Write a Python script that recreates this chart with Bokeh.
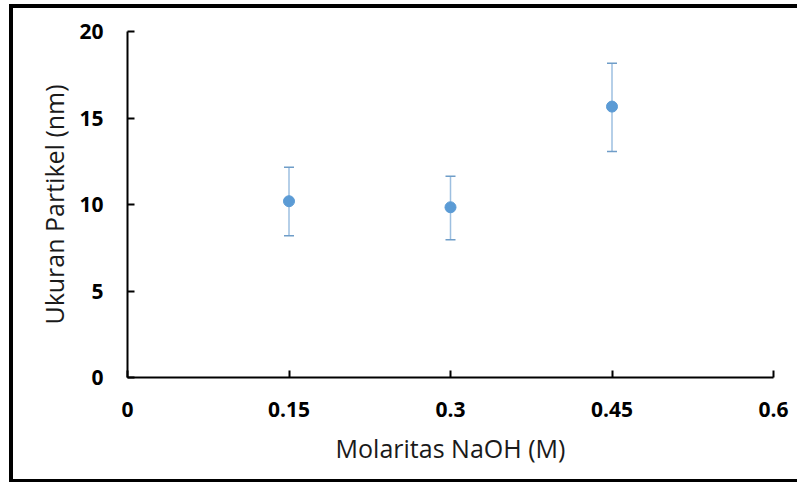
from bokeh.plotting import figure
from bokeh.models import ColumnDataSource, Whisker, TeeHead, FixedTicker, Range1d
from bokeh.embed import file_html
from bokeh.resources import INLINE

molarity = [0.15, 0.3, 0.45]
size_nm = [10.19, 9.84, 15.66]
err_low = [8.19, 7.96, 13.06]
err_high = [12.15, 11.63, 18.17]
x_ticks = [0, 0.15, 0.3, 0.45, 0.6]
x_tick_labels = {0: "0", 0.15: "0.15", 0.3: "0.3", 0.45: "0.45", 0.6: "0.6"}
y_ticks = [0, 5, 10, 15, 20]

src = ColumnDataSource(dict(x=molarity, y=size_nm, lo=err_low, hi=err_high))

p = figure(width=788, height=478, output_backend="svg", toolbar_location=None,
           x_range=Range1d(0, 0.6), y_range=Range1d(0, 20),
           min_border_left=114, min_border_right=28, min_border_top=23, min_border_bottom=109)
p.styles = {"margin-left": "9px", "margin-top": "4px",
            "border-left": "4px solid black", "border-top": "4px solid black",
            "border-bottom": "3px solid black"}
p.outline_line_color = None
p.grid.visible = False
p.background_fill_color = "white"
p.border_fill_color = "white"

FONT = "Open Sans"
for ax in (p.xaxis[0], p.yaxis[0]):
    ax.axis_line_width = 2
    ax.axis_line_color = "black"
    ax.major_tick_line_width = 2
    ax.major_tick_line_color = "black"
    ax.major_tick_in = 7
    ax.major_tick_out = 0
    ax.minor_tick_line_color = None
    ax.major_label_text_font = FONT
    ax.major_label_text_font_style = "bold"
    ax.major_label_text_font_size = "21px"
    ax.major_label_text_color = "black"
    ax.axis_label_text_font = FONT
    ax.axis_label_text_font_style = "normal"
    ax.axis_label_text_font_size = "25px"
    ax.axis_label_text_color = "#1a1a1a"

p.xaxis.ticker = FixedTicker(ticks=x_ticks)
p.xaxis.major_label_overrides = x_tick_labels
p.yaxis.ticker = FixedTicker(ticks=y_ticks)
p.xaxis.major_label_standoff = 24
p.yaxis.major_label_standoff = 24
p.xaxis.axis_label = "Molaritas NaOH (M)"
p.yaxis.axis_label = "Ukuran Partikel (nm)"
p.xaxis.axis_label_standoff = 11
p.yaxis.axis_label_standoff = 5

wh = Whisker(source=src, base="x", lower="lo", upper="hi",
             line_color="#9dbfe0", line_width=1.5,
             upper_head=TeeHead(size=10, line_color="#6f9dc8", line_width=1.5),
             lower_head=TeeHead(size=10, line_color="#6f9dc8", line_width=1.5))
p.add_layout(wh)

p.scatter("x", "y", source=src, size=11, fill_color="#5b9bd5", line_color="#5b9bd5")

open("out.html", "w").write(file_html(p, INLINE))
